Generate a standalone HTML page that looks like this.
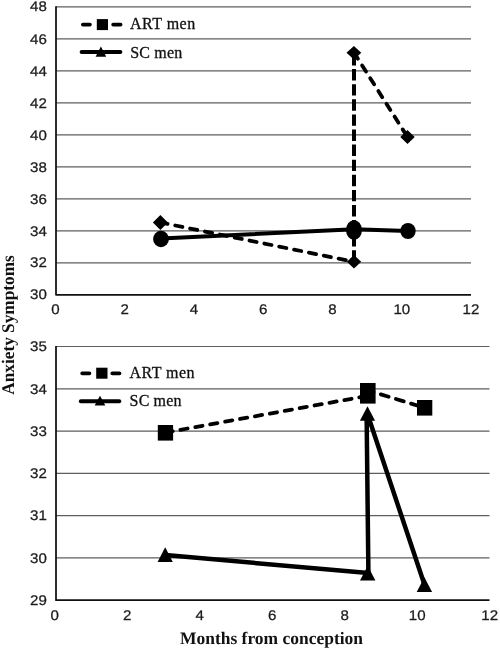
<!DOCTYPE html>
<html><head><meta charset="utf-8"><title>Anxiety Symptoms</title>
<style>
html,body{margin:0;padding:0;background:#fff;}
svg{display:block;}
.t{text-rendering:geometricPrecision;font-family:"Liberation Sans",sans-serif;font-size:14px;fill:#1a1a1a;stroke:#1a1a1a;stroke-width:0.25;}
.l{font-family:"Liberation Serif",serif;font-size:16px;fill:#111;stroke:#111;stroke-width:0.3;}
.b{text-rendering:geometricPrecision;font-family:"Liberation Serif",serif;font-size:17px;font-weight:bold;fill:#111;}
.g{stroke:#5e5e5e;stroke-width:1.2;fill:none;}
.a{stroke:#111;stroke-width:1.75;fill:none;stroke-linejoin:round;}
.s{stroke:#000;stroke-width:4;fill:none;stroke-linejoin:round;}
.d{stroke:#000;stroke-width:3.8;fill:none;stroke-dasharray:7.3 7.85;stroke-linecap:round;}
</style></head><body>
<svg width="500" height="650" viewBox="0 0 500 650">
<rect width="500" height="650" fill="#fff"/>
<g class="g">
<line x1="56.0" x2="471" y1="6.90" y2="6.90"/>
<line x1="56.0" x2="471" y1="38.89" y2="38.89"/>
<line x1="56.0" x2="471" y1="70.88" y2="70.88"/>
<line x1="56.0" x2="471" y1="102.87" y2="102.87"/>
<line x1="56.0" x2="471" y1="134.86" y2="134.86"/>
<line x1="56.0" x2="471" y1="166.84" y2="166.84"/>
<line x1="56.0" x2="471" y1="198.83" y2="198.83"/>
<line x1="56.0" x2="471" y1="230.82" y2="230.82"/>
<line x1="56.0" x2="471" y1="262.81" y2="262.81"/>
</g>
<path class="a" d="M56.0 6.300000000000001V294.8H471"/>
<g class="t" text-anchor="end">
<text x="46.8" y="11.4" textLength="16.8" lengthAdjust="spacingAndGlyphs">48</text>
<text x="46.8" y="43.7" textLength="16.8" lengthAdjust="spacingAndGlyphs">46</text>
<text x="46.8" y="75.7" textLength="16.8" lengthAdjust="spacingAndGlyphs">44</text>
<text x="46.8" y="107.7" textLength="16.8" lengthAdjust="spacingAndGlyphs">42</text>
<text x="46.8" y="139.7" textLength="16.8" lengthAdjust="spacingAndGlyphs">40</text>
<text x="46.8" y="171.6" textLength="16.8" lengthAdjust="spacingAndGlyphs">38</text>
<text x="46.8" y="203.6" textLength="16.8" lengthAdjust="spacingAndGlyphs">36</text>
<text x="46.8" y="235.6" textLength="16.8" lengthAdjust="spacingAndGlyphs">34</text>
<text x="46.8" y="267.2" textLength="16.8" lengthAdjust="spacingAndGlyphs">32</text>
<text x="46.8" y="299.0" textLength="16.8" lengthAdjust="spacingAndGlyphs">30</text>
</g>
<g class="t" text-anchor="middle">
<text x="55.5" y="314.0" textLength="8.4" lengthAdjust="spacingAndGlyphs">0</text>
<text x="124.8" y="314.0" textLength="8.4" lengthAdjust="spacingAndGlyphs">2</text>
<text x="194.0" y="314.0" textLength="8.4" lengthAdjust="spacingAndGlyphs">4</text>
<text x="263.2" y="314.0" textLength="8.4" lengthAdjust="spacingAndGlyphs">6</text>
<text x="332.5" y="314.0" textLength="8.4" lengthAdjust="spacingAndGlyphs">8</text>
<text x="401.8" y="314.0" textLength="16.8" lengthAdjust="spacingAndGlyphs">10</text>
<text x="471.0" y="314.0" textLength="16.8" lengthAdjust="spacingAndGlyphs">12</text>
</g>
<path class="d" d="M160.4 222.5L354 261.7"/>
<path class="d" style="stroke-width:4;stroke-linecap:butt;stroke-dasharray:11.4 3.7" d="M354 261.7L354 52.6"/>
<path class="d" d="M354 52.6L407.5 137"/>
<path class="s" d="M161 238.6L354 229.2L408 231"/>
<g fill="#000">
<path d="M160.4 215l7.5 7.5l-7.5 7.5l-7.5-7.5z"/>
<path d="M354 254.9l7.2 6.8l-7.2 6.8l-7.2-6.8z"/>
<path d="M353.9 46l7.4 6.7l-7.4 6.7l-7.4-6.7z"/>
<path d="M407.5 130l7.2 7l-7.2 7l-7.2-7z"/>
<ellipse cx="161" cy="239" rx="7.9" ry="8.3"/>
<ellipse cx="354" cy="230" rx="8" ry="9.8"/>
<ellipse cx="408" cy="231" rx="7.7" ry="8"/>
</g>
<path class="d" style="stroke-dasharray:none" d="M82.9 24.6H89.9M113.2 24.6H120.6"/>
<rect x="96.8" y="19.1" width="11.2" height="11" fill="#000"/>
<text class="l" x="130" y="29.1" textLength="65.2">ART men</text>
<path class="s" style="stroke-width:3.9;stroke-linecap:round" d="M81.6 52H120.4"/>
<path d="M100.9 46.6l5.3 10.1h-10.6z" fill="#000"/>
<text class="l" x="130.2" y="57.5" textLength="52">SC men</text>
<g class="g">
<line x1="56.0" x2="489.5" y1="346.50" y2="346.50"/>
<line x1="56.0" x2="489.5" y1="388.78" y2="388.78"/>
<line x1="56.0" x2="489.5" y1="431.07" y2="431.07"/>
<line x1="56.0" x2="489.5" y1="473.35" y2="473.35"/>
<line x1="56.0" x2="489.5" y1="515.63" y2="515.63"/>
<line x1="56.0" x2="489.5" y1="557.92" y2="557.92"/>
</g>
<path class="a" d="M56.0 345.9V600.2H489.5"/>
<g class="t" text-anchor="end">
<text x="46.8" y="351.2" textLength="16.8" lengthAdjust="spacingAndGlyphs">35</text>
<text x="46.8" y="393.5" textLength="16.8" lengthAdjust="spacingAndGlyphs">34</text>
<text x="46.8" y="435.8" textLength="16.8" lengthAdjust="spacingAndGlyphs">33</text>
<text x="46.8" y="478.1" textLength="16.8" lengthAdjust="spacingAndGlyphs">32</text>
<text x="46.8" y="520.3" textLength="16.8" lengthAdjust="spacingAndGlyphs">31</text>
<text x="46.8" y="562.6" textLength="16.8" lengthAdjust="spacingAndGlyphs">30</text>
<text x="46.8" y="604.9" textLength="16.8" lengthAdjust="spacingAndGlyphs">29</text>
</g>
<g class="t" text-anchor="middle">
<text x="54.7" y="620" textLength="8.4" lengthAdjust="spacingAndGlyphs">0</text>
<text x="127.2" y="620" textLength="8.4" lengthAdjust="spacingAndGlyphs">2</text>
<text x="199.7" y="620" textLength="8.4" lengthAdjust="spacingAndGlyphs">4</text>
<text x="272.2" y="620" textLength="8.4" lengthAdjust="spacingAndGlyphs">6</text>
<text x="344.7" y="620" textLength="8.4" lengthAdjust="spacingAndGlyphs">8</text>
<text x="417.2" y="620" textLength="16.8" lengthAdjust="spacingAndGlyphs">10</text>
<text x="489.7" y="620" textLength="16.8" lengthAdjust="spacingAndGlyphs">12</text>
</g>
<path class="d" d="M165.5 432.5L368 395.8L368 390.4"/>
<path class="d" style="stroke-dasharray:8.2 7.6;stroke-dashoffset:2.4" d="M368 390.4L424.8 407.8"/>
<path class="s" style="stroke-width:4.5" d="M165.5 555.1L368.4 573L366.6 413.5M367.3 413.5L424.5 584.8"/>
<g fill="#000">
<rect x="157.8" y="425" width="15.3" height="15.6"/>
<rect x="360" y="383" width="15.6" height="20.6"/>
<rect x="417" y="400" width="15.3" height="15.6"/>
<path d="M165.2 547.3l7.6 14.6h-15.2z"/>
<path d="M367.7 565.8l7.7 14.6h-15.4z"/>
<path d="M367.5 406.3l7.6 14.5h-15.2z"/>
<path d="M424.4 577.3l7.7 14.6h-15.4z"/>
</g>
<path class="d" style="stroke-dasharray:none" d="M82.2 373.3H89.4M112.3 373.3H119.5"/>
<rect x="96.2" y="367.7" width="11.3" height="11" fill="#000"/>
<text class="l" x="129.5" y="377.5" textLength="65">ART men</text>
<path class="s" style="stroke-width:3.9;stroke-linecap:round" d="M80.8 401.2H119.3"/>
<path d="M100 395.7l5.3 9.7h-10.6z" fill="#000"/>
<text class="l" x="129.6" y="406.1" textLength="51.8">SC men</text>
<text class="b" style="font-size:17.8px" transform="translate(13.9 325) rotate(-90)" text-anchor="middle" textLength="139.5" lengthAdjust="spacingAndGlyphs">Anxiety Symptoms</text>
<text class="b" style="font-size:17.5px" x="271.5" y="644.2" text-anchor="middle" textLength="183" lengthAdjust="spacingAndGlyphs">Months from conception</text>
</svg>
</body></html>
